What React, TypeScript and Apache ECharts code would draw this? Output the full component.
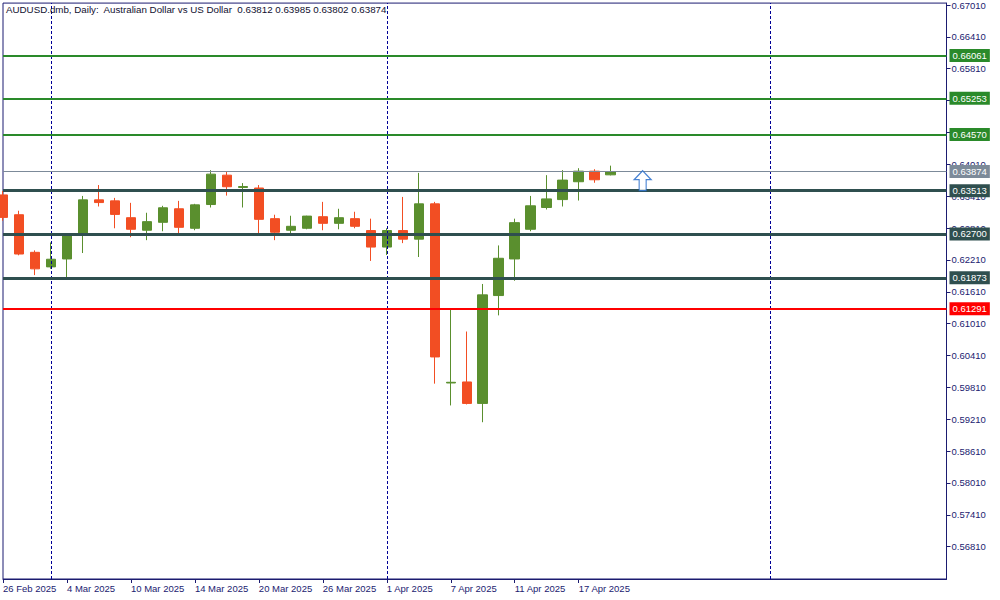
import React, { useEffect, useRef } from 'react';
import * as echarts from 'echarts';

// ---- Data ----
const barDates = [
  '26 Feb 2025', '27 Feb 2025', '28 Feb 2025', '3 Mar 2025', '4 Mar 2025', '5 Mar 2025', '6 Mar 2025',
  '7 Mar 2025', '10 Mar 2025', '11 Mar 2025', '12 Mar 2025', '13 Mar 2025', '14 Mar 2025', '17 Mar 2025',
  '18 Mar 2025', '19 Mar 2025', '20 Mar 2025', '21 Mar 2025', '24 Mar 2025', '25 Mar 2025', '26 Mar 2025',
  '27 Mar 2025', '28 Mar 2025', '31 Mar 2025', '1 Apr 2025', '2 Apr 2025', '3 Apr 2025', '4 Apr 2025',
  '7 Apr 2025', '8 Apr 2025', '9 Apr 2025', '10 Apr 2025', '11 Apr 2025', '14 Apr 2025', '15 Apr 2025',
  '16 Apr 2025', '17 Apr 2025', '18 Apr 2025', '21 Apr 2025',
];
const futureDates = [
  '22 Apr 2025', '23 Apr 2025', '24 Apr 2025', '25 Apr 2025', '28 Apr 2025', '29 Apr 2025', '30 Apr 2025',
  '1 May 2025', '2 May 2025', '5 May 2025', '6 May 2025', '7 May 2025', '8 May 2025', '9 May 2025',
  '12 May 2025', '13 May 2025', '14 May 2025', '15 May 2025', '16 May 2025', '19 May 2025', '20 May 2025',
];

const opens = [
  0.63434, 0.63061, 0.62353, 0.62079, 0.62228, 0.62675, 0.63341, 0.63322, 0.63005, 0.62769,
  0.62918, 0.63173, 0.62806, 0.63253, 0.63806, 0.63574, 0.63564, 0.62987, 0.62769, 0.62806,
  0.63024, 0.62899, 0.62987, 0.62763, 0.62452, 0.62763, 0.62601, 0.63266, 0.59893, 0.59912,
  0.59508, 0.61539, 0.62228, 0.62787, 0.63197, 0.63346, 0.63682, 0.63881, 0.63812,
];
const highs = [
  0.63508, 0.63136, 0.62390, 0.62539, 0.62707, 0.63415, 0.63620, 0.63378, 0.63285, 0.63098,
  0.63229, 0.63322, 0.63266, 0.63900, 0.63881, 0.63657, 0.63620, 0.63061, 0.63042, 0.63042,
  0.63303, 0.63173, 0.63117, 0.62987, 0.62806, 0.63396, 0.63849, 0.63303, 0.61267, 0.60862,
  0.61757, 0.62483, 0.62987, 0.63415, 0.63806, 0.63900, 0.63937, 0.63918, 0.63985,
];
const lows = [
  0.62949, 0.62297, 0.61924, 0.62042, 0.61882, 0.62340, 0.63216, 0.62806, 0.62638, 0.62582,
  0.62750, 0.62694, 0.62769, 0.63197, 0.63421, 0.63197, 0.62713, 0.62582, 0.62675, 0.62787,
  0.62769, 0.62787, 0.62806, 0.62191, 0.62303, 0.62526, 0.62265, 0.59880, 0.59470, 0.59489,
  0.59154, 0.61166, 0.61818, 0.62750, 0.63160, 0.63216, 0.63328, 0.63663, 0.63802,
];
const closes = [
  0.63011, 0.62321, 0.62042, 0.62223, 0.62700, 0.63341, 0.63290, 0.63067, 0.62787, 0.62931,
  0.63192, 0.62824, 0.63247, 0.63825, 0.63588, 0.63592, 0.62974, 0.62731, 0.62843, 0.63035,
  0.62899, 0.63005, 0.62843, 0.62452, 0.62763, 0.62601, 0.63266, 0.60383, 0.59906, 0.59508,
  0.61552, 0.62241, 0.62912, 0.63229, 0.63359, 0.63713, 0.63881, 0.63719, 0.63874,
];

const priceTicks = [
  0.5681, 0.5741, 0.5801, 0.5861, 0.5921, 0.5981, 0.6041, 0.6101, 0.6161, 0.6221,
  0.6281, 0.6341, 0.6401, 0.6461, 0.6521, 0.6581, 0.6641, 0.6701,
];

const levels = [0.66061, 0.65253, 0.64570, 0.63874, 0.63513, 0.62700, 0.61873, 0.61291];
const separatorDates = ['3 Mar 2025', '1 Apr 2025', '5 May 2025'];
const arrowSignal = { date: '23 Apr 2025', price: 0.63513 };

const titleText =
  'AUDUSD.dmb, Daily:  Australian Dollar vs US Dollar  0.63812 0.63985 0.63802 0.63874';

// ---- Styles ----
const levelColors = ['#2a8a2a', '#2a8a2a', '#2a8a2a', '#7c8a99', '#2f4f4f', '#2f4f4f', '#2f4f4f', '#ff0000'];
const levelWidths = [2, 2, 2, 1, 3, 3, 3, 2];
const UP = '#5a8f2e';
const DOWN = '#f24e23';
const NAVY = '#1b1b70';
const FONT = 'Liberation Sans';
const FS = 9.5;

export default function App() {
  const ref = useRef<HTMLDivElement>(null);

  useEffect(() => {
    if (!ref.current) return;
    const chart = echarts.init(ref.current, null, { renderer: 'svg' });
    const categories = [...barDates, ...futureDates];
    const nBars = barDates.length;
    const candles = opens.map((o, i) => [o, closes[i], lows[i], highs[i]]);

    const sepData = separatorDates.map((d) => ({
      xAxis: d,
      lineStyle: { color: '#000096', width: 1, type: [3, 2] },
      label: { show: false },
    }));
    const levelData = levels.map((v, i) => ({
      yAxis: v,
      lineStyle: { color: levelColors[i], width: levelWidths[i], type: 'solid' },
      label: {
        show: true,
        position: 'end',
        distance: 3,
        formatter: () => v.toFixed(5),
        color: '#ffffff',
        backgroundColor: levelColors[i],
        padding: [2, 3, 1, 3],
        fontSize: FS,
        fontFamily: FONT,
      },
    }));

    chart.setOption({
      animation: false,
      backgroundColor: '#ffffff',
      title: {
        text: titleText,
        left: 6,
        top: 4,
        padding: 0,
        textStyle: { fontSize: 9.75, fontWeight: 'normal', color: '#101030', fontFamily: FONT },
      },
      grid: {
        left: 2.5,
        right: 53.5,
        top: 1,
        bottom: 21,
        show: true,
        borderColor: NAVY,
        borderWidth: 1,
        backgroundColor: 'transparent',
      },
      xAxis: {
        type: 'category',
        data: categories,
        boundaryGap: false,
        axisLine: { lineStyle: { color: NAVY, width: 1 } },
        axisTick: {
          show: true,
          length: 4,
          interval: (idx: number) => idx % 4 === 0 && idx < nBars,
          lineStyle: { color: NAVY },
        },
        axisLabel: {
          interval: (idx: number) => idx % 4 === 0 && idx < nBars,
          formatter: (val: string, idx: number) => (idx < nBars ? val : ''),
          align: 'left',
          margin: 4,
          color: NAVY,
          fontSize: FS,
          fontFamily: FONT,
        },
        splitLine: { show: false },
      },
      yAxis: {
        type: 'value',
        position: 'right',
        min: 0.56202,
        max: 0.67046,
        splitLine: { show: false },
        axisLine: { show: true, lineStyle: { color: NAVY, width: 1 } },
        axisTick: { show: true, length: 4, customValues: priceTicks, lineStyle: { color: NAVY } },
        axisLabel: {
          customValues: priceTicks,
          formatter: (v: number) => v.toFixed(5),
          margin: 5,
          color: NAVY,
          fontSize: FS,
          fontFamily: FONT,
        },
      },
      series: [
        {
          name: 'separators',
          type: 'line',
          data: [],
          silent: true,
          markLine: {
            silent: true,
            symbol: ['none', 'none'],
            animation: false,
            data: sepData,
          },
        },
        {
          name: 'levels',
          type: 'line',
          data: [],
          silent: true,
          z: 3,
          markLine: {
            silent: true,
            precision: 5,
            symbol: ['none', 'none'],
            animation: false,
            data: levelData,
          },
        },
        {
          name: 'AUDUSD',
          type: 'candlestick',
          data: candles,
          barWidth: 10,
          z: 4,
          itemStyle: {
            color: UP,
            color0: DOWN,
            borderColor: UP,
            borderColor0: DOWN,
            borderWidth: 1,
          },
        },
        {
          name: 'signal',
          type: 'scatter',
          data: [[arrowSignal.date, arrowSignal.price]],
          symbol: 'path://M8.5 0 L17 9 L12 9 L12 20 L5 20 L5 9 L0 9 Z',
          symbolSize: [17, 20],
          symbolOffset: [0, -10],
          itemStyle: { color: '#ffffff', borderColor: '#1a64c8', borderWidth: 1.2 },
          z: 5,
          silent: true,
        },
      ],
    });
    return () => chart.dispose();
  }, []);

  return (
    <div
      ref={ref}
      style={{ position: 'fixed', left: 0, top: 0, width: 1000, height: 600, background: '#fff' }}
    />
  );
}
